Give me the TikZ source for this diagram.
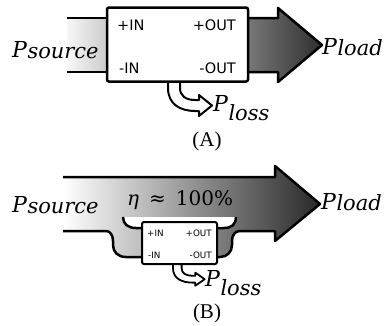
\documentclass[tikz,border=0pt]{standalone}
\usepackage{fontspec}
\newfontfamily\lblsans{DejaVu Sans}
\newfontfamily\pserif{DejaVu Serif}
\newfontfamily\capfont{Liberation Serif}
\newcommand{\Plab}[2]{\pserif\itshape P\kern0.5pt\raisebox{-#2}{\fontsize{21}{22}\selectfont #1}}
\tikzset{
  thk/.style={line width=2.5pt, line join=round},
  boxst/.style={draw, fill=white, rounded corners=2pt, inner sep=0pt},
  boxlbl/.style={font=\lblsans\fontsize{14.5}{15}\selectfont, inner sep=0pt},
  smlbl/.style={font=\lblsans\fontsize{8.8}{9}\selectfont, inner sep=0pt},
  plbl/.style={font=\fontsize{22}{23}\selectfont, inner sep=0pt, anchor=base west},
  caplbl/.style={font=\capfont\fontsize{21}{22}\selectfont, inner sep=0pt},
  lossarr/.style={line width=2pt, line join=round, fill=white},
}
\begin{document}
\begin{tikzpicture}[x=1pt, y=-1pt]
\useasboundingbox (0,0) rectangle (392,325);

% ---------- (A) ----------
\fill[left color=gray!6, right color=gray!42] (67,18) rectangle (108,72);
\draw[thk] (67,18) -- (108,18) (67,72) -- (108,72);
\draw[thk, left color=black!52, right color=black!82]
  (246,18) -- (278,18) -- (278,8) -- (322,45) -- (278,82) -- (278,72) -- (246,72);
\draw[lossarr] (168,81) -- (168,88) .. controls (168,104) and (180,111) .. (195,111)
  -- (199,111) -- (199,116) -- (212,105.5) -- (199,95) -- (199,100) -- (195,100)
  .. controls (186,100) and (180,96) .. (180,88) -- (180,81);
\node[boxst, line width=2.5pt, minimum width=141pt, minimum height=74pt] (boxA) at (177.5,44.5) {};
\node[boxlbl, anchor=base west] (aPin) at (117,30) {+IN};
\node[boxlbl, anchor=base east] (aPout) at (236,30) {+OUT};
\node[boxlbl, anchor=base west] (aMin) at (119,73) {-IN};
\node[boxlbl, anchor=base east] (aMout) at (236,73) {-OUT};
\node[plbl] (aSrc) at (12,57) {\Plab{source}{1pt}};
\node[plbl] (aLoad) at (322,54) {\Plab{load}{1pt}};
\node[plbl] (aLoss) at (213,111.5) {\Plab{loss}{9pt}};
\node[caplbl] (capA) at (207,141) {(A)};

% ---------- (B) ----------
\draw[thk, left color=white, right color=black!84]
  (63,177) -- (275,177) -- (275,166) -- (320,204) -- (275,241) -- (275,231) -- (240,231)
  .. controls (235,231) and (232,235) .. (232,241) -- (232,245)
  .. controls (232,252) and (227,257) .. (220,257) -- (126,257)
  .. controls (118,257) and (113,252) .. (113,245) -- (113,241)
  .. controls (113,235) and (110,231) .. (106,231) -- (63,231);
\draw[thk, fill=white] (123,217) .. controls (123,224) and (128,228) .. (136,228)
  -- (224,228) .. controls (232,228) and (236,224) .. (236,217);
\begin{scope}[shift={(173,264)}, xscale=0.72, yscale=0.62]
\draw[lossarr, line width=1.8pt] (0,0) -- (0,7) .. controls (0,23) and (12,30) .. (27,30)
  -- (31,30) -- (31,35) -- (44,24.5) -- (31,14) -- (31,19) -- (27,19)
  .. controls (18,19) and (12,15) .. (12,7) -- (12,0);
\end{scope}
\node[boxst, line width=2pt, minimum width=75pt, minimum height=42pt] (boxB) at (179.5,243) {};
\node[smlbl, anchor=base west] (bPin) at (147,236) {+IN};
\node[smlbl, anchor=base east] (bPout) at (212,236) {+OUT};
\node[smlbl, anchor=base west] (bMin) at (148,258) {-IN};
\node[smlbl, anchor=base east] (bMout) at (212,258) {-OUT};
\node[font=\pserif\fontsize{20}{22}\selectfont, inner sep=0pt, anchor=base west] (eta) at (127,205)
  {{\itshape η}\hspace{10pt}≈\hspace{10pt}100\%};
\node[plbl] (bSrc) at (12,212.5) {\Plab{source}{1pt}};
\node[plbl] (bLoad) at (321,209.5) {\Plab{load}{1pt}};
\node[plbl] (bLoss) at (205,286) {\Plab{loss}{9pt}};
\node[caplbl] (capB) at (207,313) {(B)};
\end{tikzpicture}
\end{document}
